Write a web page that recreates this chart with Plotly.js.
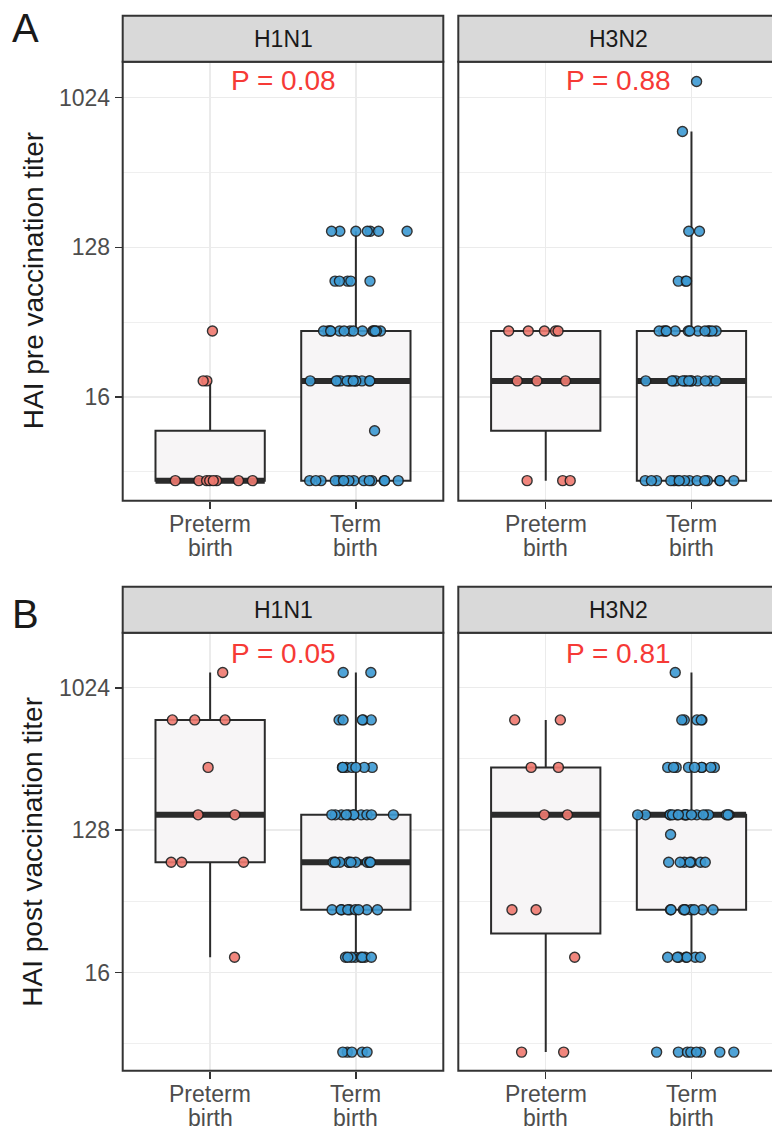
<!DOCTYPE html>
<html><head><meta charset="utf-8">
<script src="https://cdn.plot.ly/plotly-3.0.1.min.js"></script>
<style>html,body{margin:0;padding:0;overflow:hidden;background:#fff;width:772px;height:1134px}</style>
</head><body><div id="chart"></div>
<script>
// ---------------- data ----------------
const categories = ["Preterm birth", "Term birth"];
const strains = ["H1N1", "H3N2"];
const panelLetters = ["A", "B"];
const yAxisTitles = ["HAI pre vaccination titer", "HAI post vaccination titer"];
const yTickValues = [16, 128, 1024];
const preP = ["P = 0.08", "P = 0.88"];
const postP = ["P = 0.05", "P = 0.81"];

const preH1N1Preterm = [5,5,5,5,5,5,5,5,20,20,40];
const preH1N1Term = [5,5,5,5,5,5,5,5,5,5,5,5,5,5,5,
  10,
  20,20,20,20,20,20,20,20,20,20,20,20,20,
  40,40,40,40,40,40,40,40,40,40,40,40,40,40,
  80,80,80,80,80,
  160,160,160,160,160,160,160];
const preH3N2Preterm = [5,5,5,20,20,20,40,40,40,40,40];
const preH3N2Term = [5,5,5,5,5,5,5,5,5,5,5,5,5,5,5,
  20,20,20,20,20,20,20,20,20,20,20,20,20,20,
  40,40,40,40,40,40,40,40,40,40,40,40,40,
  80,80,80,
  160,160,
  640,
  1280];
const postH1N1Preterm = [20,80,80,80,160,160,320,640,640,640,1280];
const postH1N1Term = [5,5,5,5,5,
  20,20,20,20,20,20,20,20,
  40,40,40,40,40,40,40,40,40,
  80,80,80,80,80,80,80,80,80,80,80,
  160,160,160,160,160,160,160,160,160,160,160,
  320,320,320,320,320,320,320,
  640,640,640,640,640,
  1280,1280];
const postH3N2Preterm = [5,5,20,40,40,160,160,320,320,640,640];
const postH3N2Term = [5,5,5,5,5,5,5,5,
  20,20,20,20,20,20,20,
  40,40,40,40,40,40,40,40,40,
  80,80,80,80,80,80,80,
  120,
  160,160,160,160,160,160,160,160,160,160,160,160,160,160,160,160,160,160,160,
  320,320,320,320,320,320,320,320,320,
  640,640,640,640,640,
  1280];

// ---------------- layout geometry ----------------
const W = 780, H = 1134;
const FONT = "Liberation Sans, Arial, Helvetica, sans-serif";
const colPx = [[122.7, 443.3], [458.3, 778.9]];
const rowPx = [[61.7, 500.7], [632.7, 1070.7]];   // top, bottom
const rowRange = [[1.92, 10.72], [1.93, 11.16]];
const stripH = 46;
const pointColors = ["#F07A70", "#3C9AD3"];
const panels = [
  [[preH1N1Preterm, preH1N1Term], [preH3N2Preterm, preH3N2Term]],
  [[postH1N1Preterm, postH1N1Term], [postH3N2Preterm, postH3N2Term]]
];
const pLabels = [preP, postP];
const pLabelPx = [81, 653];

function q7(s, p) {
  const h = (s.length - 1) * p, lo = Math.floor(h), hi = Math.ceil(h);
  return s[lo] + (h - lo) * (s[hi] - s[lo]);
}

const traces = [], shapes = [], annotations = [];
const layout = {
  width: W, height: H, autosize: false,
  margin: {l: 0, r: 0, t: 0, b: 0},
  paper_bgcolor: "#fff", plot_bgcolor: "#fff",
  showlegend: false, hovermode: false,
  font: {family: FONT, color: "#333"},
  boxmode: "overlay"
};

const majorLog = yTickValues.map(Math.log2);
const minorLog = majorLog.map(v => v - 1.5);

for (let r = 0; r < 2; r++) {
  const [yt, yb] = rowPx[r];
  for (let c = 0; c < 2; c++) {
    const k = r * 2 + c;
    const s = k === 0 ? "" : String(k + 1);
    const [x0, x1] = colPx[c];
    layout["xaxis" + s] = {
      domain: [x0 / W, x1 / W], range: [0.4, 2.6], anchor: "y" + s,
      tickmode: "array", tickvals: [1, 2], showticklabels: false,
      ticks: "outside", ticklen: 7, tickwidth: 1.5, tickcolor: "#333",
      showgrid: true, gridcolor: "#EBEBEB", gridwidth: 1.3,
      zeroline: false, showline: false, fixedrange: true
    };
    layout["yaxis" + s] = {
      domain: [1 - yb / H, 1 - yt / H], range: rowRange[r], anchor: "x" + s,
      tickmode: "array", tickvals: majorLog, ticktext: yTickValues.map(String),
      showticklabels: c === 0, ticks: c === 0 ? "outside" : "",
      ticklen: 7, tickwidth: 1.5, tickcolor: "#333",
      tickfont: {family: FONT, size: 23, color: "#4D4D4D"},
      showgrid: true, gridcolor: "#EBEBEB", gridwidth: 1.3,
      minor: {tickmode: "array", tickvals: minorLog, showgrid: true, gridcolor: "#EFEFEF", gridwidth: 1.1, ticks: ""},
      zeroline: false, showline: false, fixedrange: true
    };

    panels[r][c].forEach((vals, gi) => {
      const pos = gi + 1;
      const lv = vals.map(Math.log2);
      const sorted = lv.slice().sort((a, b) => a - b);
      const q1 = q7(sorted, 0.25), med = q7(sorted, 0.5), q3 = q7(sorted, 0.75);
      const iqr = q3 - q1;
      const lo = q1 - 1.5 * iqr, hi = q3 + 1.5 * iqr;
      const inside = sorted.filter(v => !(v < lo) && !(v > hi));
      const lf = Math.min(q1, inside[0]), uf = Math.max(q3, inside[inside.length - 1]);
      const common = {type: "box", xaxis: "x" + s, yaxis: "y" + s, width: 0.75,
        whiskerwidth: 0, hoverinfo: "skip"};
      traces.push(Object.assign({}, common, {
        x: [pos], q1: [q1], median: [med], q3: [q3], lowerfence: [lf], upperfence: [uf],
        fillcolor: "#F7F5F6", line: {color: "#2B2B2B", width: 2}, boxpoints: false
      }));
      traces.push(Object.assign({}, common, {
        x: [pos], q1: [med], median: [med], q3: [med], lowerfence: [med], upperfence: [med],
        fillcolor: "rgba(0,0,0,0)", line: {color: "#2B2B2B", width: 6}, boxpoints: false
      }));
      traces.push(Object.assign({}, common, {
        x0: pos, y: lv, boxpoints: "all", jitter: 1, pointpos: 0,
        fillcolor: "rgba(0,0,0,0)", line: {color: "rgba(0,0,0,0)", width: 0},
        marker: {color: pointColors[gi], size: 10, opacity: 0.9,
                 line: {color: "#1E1E1E", width: 1.4}}
      }));
    });

    // panel border
    shapes.push({type: "rect", xref: "x" + s + " domain", yref: "y" + s + " domain",
      x0: 0, x1: 1, y0: 0, y1: 1, line: {color: "#333", width: 2}, fillcolor: "rgba(0,0,0,0)", layer: "above"});
    // strip
    shapes.push({type: "rect", xref: "x" + s + " domain", yref: "paper",
      x0: 0, x1: 1, y0: 1 - yt / H, y1: 1 - (yt - stripH) / H,
      line: {color: "#333", width: 2}, fillcolor: "#D9D9D9", layer: "above"});
    annotations.push({xref: "x" + s + " domain", yref: "paper", x: 0.5, y: 1 - (yt - stripH / 2) / H,
      text: strains[c], showarrow: false, xanchor: "center", yanchor: "middle",
      font: {family: FONT, size: 23, color: "#1A1A1A"}});
    // p value label
    annotations.push({xref: "x" + s + " domain", yref: "paper", x: 0.5, y: 1 - pLabelPx[r] / H,
      text: pLabels[r][c], showarrow: false, xanchor: "center", yanchor: "middle",
      font: {family: FONT, size: 28, color: "#F63A36"}});
    // x category labels (two lines)
    categories.forEach((cat, gi) => {
      cat.split(" ").forEach((line, li) => {
        annotations.push({xref: "x" + s, yref: "paper", x: gi + 1, y: 1 - (yb + 23.5 + li * 23.5) / H,
          text: line, showarrow: false, xanchor: "center", yanchor: "middle",
          font: {family: FONT, size: 23, color: "#4D4D4D"}});
      });
    });
  }
  // y title
  annotations.push({xref: "paper", yref: "paper", x: 33 / W, y: 1 - ((yt + yb) / 2) / H,
    text: yAxisTitles[r], textangle: -90, showarrow: false, xanchor: "center", yanchor: "middle",
    font: {family: FONT, size: 28, color: "#1A1A1A"}});
  // panel letter
  annotations.push({xref: "paper", yref: "paper", x: 10 / W, y: 1 - (r === 0 ? 4 : 590) / H,
    text: panelLetters[r], showarrow: false, xanchor: "left", yanchor: "top",
    font: {family: FONT, size: 40, color: "#1A1A1A"}});
}

layout.shapes = shapes;
layout.annotations = annotations;
Plotly.newPlot("chart", traces, layout, {displayModeBar: false, staticPlot: true});
</script>
</body></html>
